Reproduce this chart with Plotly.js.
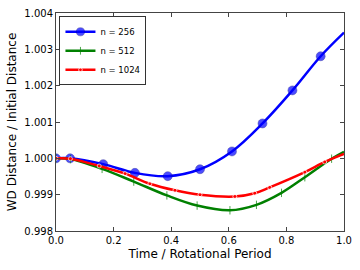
<!DOCTYPE html>
<html><head><meta charset="utf-8">
<script src="https://cdn.plot.ly/plotly-3.0.1.min.js"></script>
<style>html,body{margin:0;padding:0;background:#fff}#c{width:360px;height:270px}</style>
</head><body><div id="c"></div>
<script>
const x256 = [0, 0.049, 0.164, 0.274, 0.388, 0.500, 0.611, 0.717, 0.821, 0.919, 1.0];
const y256 = [1.0000, 1.00000, 0.99984, 0.99960, 0.99951, 0.99970, 1.00019, 1.00096, 1.00187, 1.00281, 1.00346];
const x512 = [0, 0.05, 0.16, 0.27, 0.385, 0.49, 0.604, 0.696, 0.783, 0.864, 0.957, 1.0];
const y512 = [1.0000, 0.99998, 0.99971, 0.99936, 0.99898, 0.99870, 0.99857, 0.99872, 0.99905, 0.99948, 0.99999, 1.00018];
const x1024 = [0, 0.05, 0.15, 0.24, 0.326, 0.413, 0.50, 0.621, 0.69, 0.742, 0.864, 0.933, 1.0];
const y1024 = [1.0000, 0.99999, 0.99979, 0.99958, 0.99930, 0.99912, 0.99900, 0.99895, 0.99904, 0.99920, 0.99962, 0.99990, 1.00012];
const names = ["n = 256", "n = 512", "n = 1024"];
const xTicks = [0, 0.2, 0.4, 0.6, 0.8, 1.0];
const yTicks = [0.998, 0.999, 1.000, 1.001, 1.002, 1.003, 1.004];

const traces = [
  {x: x256, y: y256, name: names[0], mode: "lines+markers", line: {color: "#0000ff", width: 2.5, shape: "spline"},
   marker: {color: "#0000ff", size: x256.map((v, i) => i === x256.length - 1 ? 0 : 9), line: {color: "#000080", width: 0.5}}},
  {x: x512, y: y512, name: names[1], mode: "lines+markers", line: {color: "#008000", width: 2.5, shape: "spline"},
   marker: {color: "#008000", symbol: "line-ns", size: x512.map((v, i) => i === x512.length - 1 ? 0 : 6), line: {color: "#008000", width: 1}}},
  {x: x1024, y: y1024, name: names[2], mode: "lines+markers", line: {color: "#ff0000", width: 2.5, shape: "spline"},
   marker: {color: "#ff0000", size: x1024.map((v, i) => i === x1024.length - 1 ? 0 : 4)}}
];
const axisCommon = {showline: true, mirror: "ticks", linecolor: "#444", linewidth: 1, ticks: "inside", ticklen: 4,
  tickcolor: "#444", showgrid: false, zeroline: false, tickfont: {size: 10, color: "#000"}};
const layout = {
  width: 360, height: 270, margin: {l: 56, r: 16, t: 13, b: 39},
  paper_bgcolor: "#fff", plot_bgcolor: "#fff",
  font: {family: "DejaVu Sans", color: "#000"},
  showlegend: true,
  legend: {x: 0.012, y: 0.985, xanchor: "left", yanchor: "top", bgcolor: "#fff", bordercolor: "#333", borderwidth: 1,
    font: {size: 8.5}, itemwidth: 30, tracegroupgap: 0},
  xaxis: Object.assign({}, axisCommon, {range: [0, 1], tickvals: xTicks, ticktext: xTicks.map(v => v.toFixed(1)),
    title: {text: "Time / Rotational Period", font: {size: 12}, standoff: 4}}),
  yaxis: Object.assign({}, axisCommon, {range: [0.998, 1.004], tickvals: yTicks, ticktext: yTicks.map(v => v.toFixed(3)),
    title: {text: "WD Distance / Initial Distance", font: {size: 12}, standoff: 5}})
};
Plotly.newPlot("c", traces, layout, {displayModeBar: false, staticPlot: true});
</script></body></html>
